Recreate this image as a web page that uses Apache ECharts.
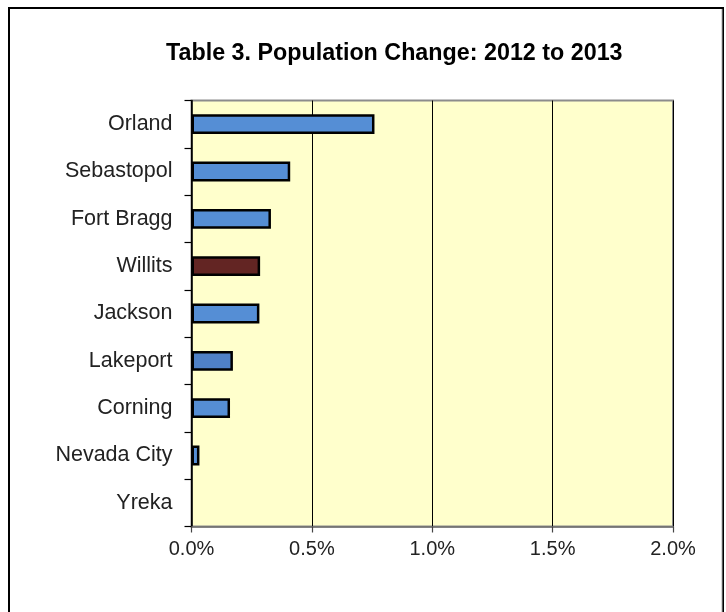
<!DOCTYPE html>
<html>
<head>
<meta charset="utf-8">
<script src="https://cdn.jsdelivr.net/npm/echarts@6/dist/echarts.min.js"></script>
<style>
  html, body { margin: 0; padding: 0; background: #ffffff; }
  #chart { width: 726px; height: 612px; }
</style>
</head>
<body>
<div id="chart"></div>
<script>
// Cities, top to bottom
const cities = ['Orland', 'Sebastopol', 'Fort Bragg', 'Willits', 'Jackson', 'Lakeport', 'Corning', 'Nevada City', 'Yreka'];
// Population change 2012 -> 2013, in percent
const changePct = [0.76, 0.41, 0.33, 0.285, 0.282, 0.172, 0.16, 0.033, 0];
// X axis range and step, in percent
const axisMin = 0;
const axisMax = 2.0;
const axisStep = 0.5;

const highlightCity = 'Willits';

const chart = echarts.init(document.getElementById('chart'), null, { renderer: 'canvas' });

const font = '"Liberation Sans", Arial, sans-serif';

// Zero-valued bars get no outline so they don't leave a stray line on the axis
const barData = changePct.map(v => v === 0 ? { value: v, itemStyle: { borderWidth: 0 } } : v);

chart.setOption({
  animation: false,
  backgroundColor: '#ffffff',
  graphic: [{
    type: 'rect',
    z: -10,
    shape: { x: 9, y: 8, width: 714, height: 640 },
    style: { fill: 'none', stroke: '#000000', lineWidth: 2 }
  }, {
    type: 'line',
    z: -9,
    shape: { x1: 722, y1: 9, x2: 722, y2: 640 },
    style: { stroke: '#b0b0b0', lineWidth: 1 }
  }],
  title: {
    text: 'Table 3. Population Change: 2012 to 2013',
    left: 161,
    top: 37,
    textStyle: { fontFamily: font, fontSize: 23.3, fontWeight: 'bold', color: '#000000' }
  },
  grid: {
    left: 191.5,
    top: 100.5,
    right: 53,
    bottom: 85.5,
    show: true,
    backgroundColor: '#ffffcc',
    borderColor: '#8c8c8c',
    borderWidth: 2
  },
  xAxis: {
    type: 'value',
    min: axisMin,
    max: axisMax,
    interval: axisStep,
    axisLine: { show: true, lineStyle: { color: '#6e6e6e', width: 1.5 } },
    axisTick: { show: true, length: 6, lineStyle: { color: '#444444', width: 1.2 } },
    axisLabel: {
      margin: 13,
      fontFamily: font,
      fontSize: 20,
      color: '#222222',
      formatter: v => v.toFixed(1) + '%'
    },
    splitLine: { show: true, lineStyle: { color: '#000000', width: 1 } }
  },
  yAxis: {
    type: 'category',
    data: cities,
    inverse: true,
    axisLine: { show: true, lineStyle: { color: '#000000', width: 1.5 } },
    axisTick: { show: true, length: 7, lineStyle: { color: '#000000', width: 1.2 } },
    axisLabel: { margin: 19, fontFamily: font, fontSize: 21.5, color: '#222222' },
    splitLine: { show: false }
  },
  series: [{
    type: 'bar',
    data: barData,
    barWidth: '42%',
    itemStyle: {
      color: p => p.name === highlightCity ? '#632523' : (p.name === 'Lakeport' ? '#4f81c7' : '#558ed5'),
      borderColor: '#000000',
      borderWidth: 2.5
    }
  }]
});
</script>
</body>
</html>
